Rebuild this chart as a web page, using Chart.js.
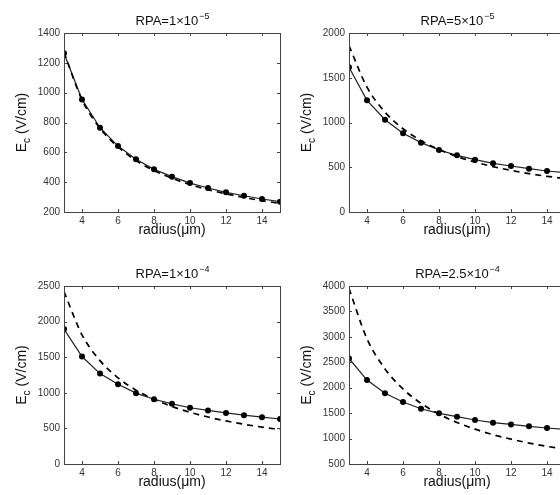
<!DOCTYPE html>
<html>
<head>
<meta charset="utf-8">
<script src="https://cdn.jsdelivr.net/npm/chart.js@4"></script>
<style>
  html, body { margin: 0; padding: 0; background: #fff; overflow: hidden; }
  body { width: 560px; height: 495px; position: relative; }
  canvas { position: absolute; }
</style>
</head>
<body>
<canvas id="c1" width="290" height="245" style="left:0px;top:0px"></canvas>
<canvas id="c2" width="290" height="245" style="left:285px;top:0px"></canvas>
<canvas id="c3" width="290" height="250" style="left:0px;top:245px"></canvas>
<canvas id="c4" width="290" height="250" style="left:285px;top:245px"></canvas>
<script>
// radius values (um) shared by every panel
const radius = [3, 4, 5, 6, 7, 8, 9, 10, 11, 12, 13, 14, 15];
const xTicks = [4, 6, 8, 10, 12, 14];

// panel titles: base text + exponent
const titleBase = ['RPA=1\u00d710', 'RPA=5\u00d710', 'RPA=1\u00d710', 'RPA=2.5\u00d710'];
const titleExp = ['\u22125', '\u22125', '\u22124', '\u22124'];

// solid line with markers
const solid1 = [1264, 955, 765, 642, 553, 486, 437, 394, 361, 332, 309, 287, 269];
const solid2 = [1617, 1248, 1031, 879, 775, 693, 633, 585, 544, 514, 484, 458, 440];
const solid3 = [1895, 1510, 1270, 1120, 995, 910, 845, 790, 752, 718, 686, 658, 632];
const solid4 = [2575, 2150, 1890, 1718, 1587, 1497, 1430, 1365, 1312, 1278, 1240, 1208, 1182];

// dashed curve
const dashed1 = [1270, 952, 762, 636, 545, 478, 426, 384, 350, 322, 297, 276, 258];
const dashed2 = [1858, 1395, 1115, 930, 797, 698, 620, 558, 507, 465, 429, 399, 374];
const dashed3 = [2420, 1815, 1452, 1210, 1037, 908, 807, 726, 660, 605, 558, 518, 484];
const dashed4 = [3950, 2962, 2370, 1975, 1693, 1481, 1317, 1185, 1077, 988, 912, 846, 792];

// y axis ranges
const yMin = [200, 0, 0, 500];
const yMax = [1400, 2000, 2500, 4000];
const yStep = [200, 500, 500, 500];

const FONT = '"Liberation Sans", Arial, sans-serif';

const framePlugin = {
  id: 'frame',
  afterDraw(chart, args, opts) {
    const ctx = chart.ctx;
    const a = chart.chartArea;
    const xs = chart.scales.x;
    const ys = chart.scales.y;
    ctx.save();
    ctx.strokeStyle = '#444';
    ctx.lineWidth = 1;
    ctx.strokeRect(Math.round(a.left) + 0.5, Math.round(a.top) + 0.5,
                   Math.round(a.right - a.left), Math.round(a.bottom - a.top));
    // inward ticks, mirrored on top and right
    ctx.beginPath();
    xs.ticks.forEach(t => {
      const px = Math.round(xs.getPixelForValue(t.value)) + 0.5;
      ctx.moveTo(px, a.bottom); ctx.lineTo(px, a.bottom - 3);
      ctx.moveTo(px, a.top); ctx.lineTo(px, a.top + 3);
    });
    ys.ticks.forEach(t => {
      const py = Math.round(ys.getPixelForValue(t.value)) + 0.5;
      ctx.moveTo(a.left, py); ctx.lineTo(a.left + 3, py);
      ctx.moveTo(a.right, py); ctx.lineTo(a.right - 3, py);
    });
    ctx.stroke();

    ctx.fillStyle = '#111';
    const cx = (a.left + a.right) / 2;
    // title with superscript
    ctx.textBaseline = 'alphabetic';
    ctx.textAlign = 'left';
    ctx.font = '13px ' + FONT;
    const wb = ctx.measureText(opts.base).width;
    ctx.font = '9px ' + FONT;
    const we = ctx.measureText(opts.exp).width;
    const tx = cx - (wb + we) / 2;
    const ty = a.top - 8;
    ctx.font = '13px ' + FONT;
    ctx.fillText(opts.base, tx, ty);
    ctx.font = '9px ' + FONT;
    ctx.fillText(opts.exp, tx + wb + 1, ty - 6);

    // x axis title
    ctx.font = '14px ' + FONT;
    ctx.textAlign = 'center';
    ctx.textBaseline = 'alphabetic';
    ctx.fillText('radius(\u03bcm)', cx, a.bottom + 22);

    // y axis title with subscript
    ctx.translate(a.left - 43, (a.top + a.bottom) / 2);
    ctx.rotate(-Math.PI / 2);
    ctx.textAlign = 'left';
    ctx.textBaseline = 'alphabetic';
    ctx.font = '14px ' + FONT;
    const wE = ctx.measureText('E').width;
    const wR = ctx.measureText(' (V/cm)').width;
    ctx.font = '10px ' + FONT;
    const wc = ctx.measureText('c').width;
    let sx = -(wE + wc + wR) / 2;
    ctx.font = '14px ' + FONT;
    ctx.fillText('E', sx, 5);
    ctx.font = '10px ' + FONT;
    ctx.fillText('c', sx + wE, 9);
    ctx.font = '14px ' + FONT;
    ctx.fillText(' (V/cm)', sx + wE + wc, 5);
    ctx.restore();
  }
};

function makePanel(id, i, solid, dashed, padTop, xHeight) {
  new Chart(document.getElementById(id), {
    type: 'line',
    data: {
      datasets: [
        {
          data: radius.map((r, k) => ({ x: r, y: dashed[k] })),
          borderColor: '#000',
          borderWidth: 1.7,
          borderDash: [6, 5],
          pointRadius: 0,
          cubicInterpolationMode: 'monotone',
          fill: false
        },
        {
          data: radius.map((r, k) => ({ x: r, y: solid[k] })),
          borderColor: '#222',
          borderWidth: 1.2,
          pointRadius: 3,
          pointBackgroundColor: '#000',
          pointBorderColor: '#000',
          pointBorderWidth: 0,
          tension: 0,
          fill: false
        }
      ]
    },
    options: {
      responsive: false,
      animation: false,
      devicePixelRatio: 1,
      layout: { padding: { top: padTop, right: 10, left: 0, bottom: 0 } },
      plugins: {
        legend: { display: false },
        tooltip: { enabled: false },
        frame: { base: titleBase[i], exp: titleExp[i] }
      },
      scales: {
        x: {
          type: 'linear',
          min: 3,
          max: 15,
          grid: { display: false, drawTicks: false },
          border: { display: false },
          ticks: { font: { family: FONT, size: 10 }, color: '#333', padding: 3, maxRotation: 0,
                   callback: v => String(v) },
          afterBuildTicks: s => { s.ticks = xTicks.map(v => ({ value: v })); },
          afterFit: s => { s.height = xHeight; }
        },
        y: {
          min: yMin[i],
          max: yMax[i],
          grid: { display: false, drawTicks: false },
          border: { display: false },
          ticks: { stepSize: yStep[i], font: { family: FONT, size: 10 }, color: '#333', padding: 4,
                   callback: v => String(v) },
          afterFit: s => { s.width = 64; }
        }
      }
    },
    plugins: [framePlugin]
  });
}

makePanel('c1', 0, solid1, dashed1, 33, 33);
makePanel('c2', 1, solid2, dashed2, 33, 33);
makePanel('c3', 2, solid3, dashed3, 41, 31);
makePanel('c4', 3, solid4, dashed4, 41, 31);
</script>
</body>
</html>
